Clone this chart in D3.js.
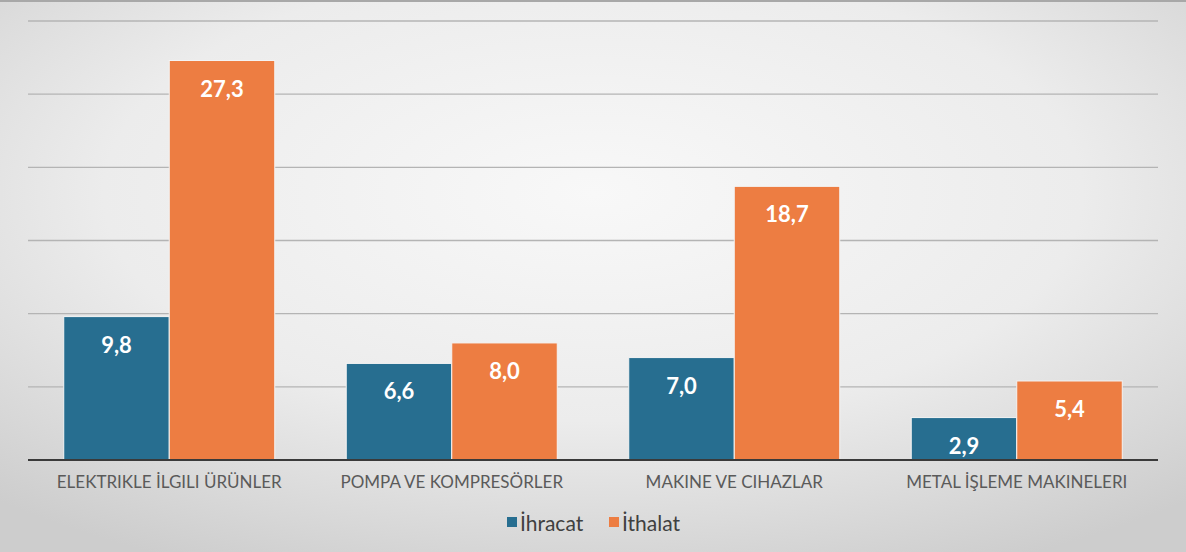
<!DOCTYPE html>
<html>
<head>
<meta charset="utf-8">
<script src="https://cdn.jsdelivr.net/npm/d3@7"></script>
<style>
  html, body { margin: 0; padding: 0; background: #fff; }
  #chart { width: 1186px; height: 552px; }
</style>
</head>
<body>
<div id="chart"></div>
<script>
// chart data
const categories = ["ELEKTRIKLE İLGILI ÜRÜNLER", "POMPA VE KOMPRESÖRLER", "MAKINE VE CIHAZLAR", "METAL İŞLEME MAKINELERI"];
const seriesNames = ["İhracat", "İthalat"];
const ihracat = [9.8, 6.6, 7.0, 2.9];
const ithalat = [27.3, 8.0, 18.7, 5.4];
const yTicks = [0, 5, 10, 15, 20, 25, 30];

const colors = ["#276e90", "#ed7d42"];

const width = 1186, height = 552;
const plot = { left: 28, right: 1158, top: 21, bottom: 460 };

const svg = d3.select("#chart").append("svg")
    .attr("width", width)
    .attr("height", height);

// background gradient (light center, grey edges)
const defs = svg.append("defs");
const grad = defs.append("radialGradient")
    .attr("id", "bg")
    .attr("cx", "50%").attr("cy", "35%")
    .attr("r", "75%");
grad.append("stop").attr("offset", "0%").attr("stop-color", "#f8f8f8");
grad.append("stop").attr("offset", "55%").attr("stop-color", "#ececec");
grad.append("stop").attr("offset", "100%").attr("stop-color", "#cdcdcd");

svg.append("rect")
    .attr("width", width).attr("height", height)
    .attr("fill", "url(#bg)");
svg.append("rect")
    .attr("x", 0).attr("y", 0).attr("width", width).attr("height", 2)
    .attr("fill", "#a8a8a8");

const table = categories.map((c, i) => ({ cat: c, values: [ihracat[i], ithalat[i]] }));

const x0 = d3.scaleBand()
    .domain(categories)
    .range([plot.left, plot.right])
    .paddingInner(0.253)
    .paddingOuter(0.1265);

const x1 = d3.scaleBand()
    .domain([0, 1])
    .range([0, x0.bandwidth()]);

const y = d3.scaleLinear()
    .domain([0, 30])
    .range([plot.bottom, plot.top]);

// gridlines
svg.append("g")
  .selectAll("line")
  .data(yTicks.slice(1))
  .join("line")
    .attr("x1", plot.left)
    .attr("x2", plot.right)
    .attr("y1", d => y(d))
    .attr("y2", d => y(d))
    .attr("stroke", "#b4b4b4")
    .attr("stroke-width", 1.3);

// bars
const groups = svg.append("g")
  .selectAll("g")
  .data(table)
  .join("g")
    .attr("transform", d => `translate(${x0(d.cat)},0)`);

groups.selectAll("rect")
  .data(d => d.values.map((v, k) => ({ v, k })))
  .join("rect")
    .attr("x", d => x1(d.k))
    .attr("y", d => y(d.v))
    .attr("width", x1.bandwidth())
    .attr("height", d => y(0) - y(d.v))
    .attr("fill", d => colors[d.k])
    .attr("stroke", "#f4f4f4")
    .attr("stroke-width", 1);

groups.selectAll("text")
  .data(d => d.values.map((v, k) => ({ v, k })))
  .join("text")
    .attr("x", d => x1(d.k) + x1.bandwidth() / 2)
    .attr("y", d => y(d.v) + 36)
    .attr("text-anchor", "middle")
    .attr("fill", "#ffffff")
    .style("font-family", "Lato, 'Open Sans', sans-serif")
    .style("font-weight", "bold")
    .style("font-size", "22px")
    .text(d => d.v.toFixed(1).replace(".", ","));

// baseline
svg.append("line")
    .attr("x1", plot.left).attr("x2", plot.right)
    .attr("y1", plot.bottom).attr("y2", plot.bottom)
    .attr("stroke", "#3a3a3a")
    .attr("stroke-width", 2);

// category labels
svg.append("g")
  .selectAll("text")
  .data(categories)
  .join("text")
    .attr("x", d => x0(d) + x0.bandwidth() / 2)
    .attr("y", 488)
    .attr("text-anchor", "middle")
    .attr("fill", "#5a5a5a")
    .style("font-family", "Lato, 'Open Sans', sans-serif")
    .style("font-size", "17px")
    .text(d => d);

// legend
const legend = svg.append("g");
const legendItems = [
  { name: seriesNames[0], color: colors[0], x: 507 },
  { name: seriesNames[1], color: colors[1], x: 609 }
];
legend.selectAll("rect")
  .data(legendItems)
  .join("rect")
    .attr("x", d => d.x)
    .attr("y", 517)
    .attr("width", 10)
    .attr("height", 10)
    .attr("fill", d => d.color);
legend.selectAll("text")
  .data(legendItems)
  .join("text")
    .attr("x", d => d.x + 13)
    .attr("y", 531)
    .attr("fill", "#404040")
    .style("font-family", "Lato, 'Open Sans', sans-serif")
    .style("font-size", "21px")
    .text(d => d.name);
</script>
</body>
</html>
